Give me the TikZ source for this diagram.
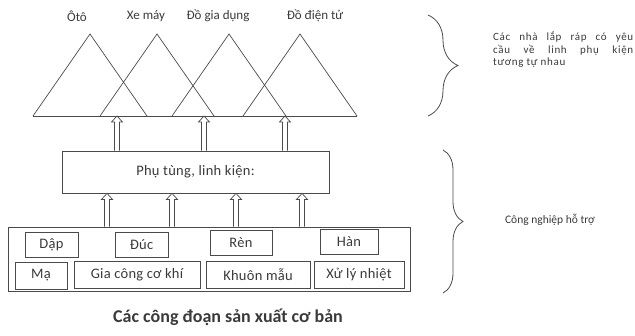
\documentclass[tikz,border=0pt]{standalone}
\usepackage{fontspec}
\setmainfont{Carlito}
\newfontfamily\spacedfont[LetterSpace=6]{Carlito}
\newfontfamily\boxfont[LetterSpace=2]{Carlito}
\usetikzlibrary{arrows.meta,calc,decorations.pathreplacing}
\definecolor{Ink}{HTML}{3A3A3A}
\definecolor{Line}{HTML}{4A4A4A}

\tikzset{
  box/.style={draw=Line,line width=0.8pt,inner sep=0pt,text=Ink,font=\boxfont\fontsize{14.5}{16}\selectfont},
  tri/.style={draw=Line,line width=0.7pt,line join=miter},
  blockup/.style={draw=Line,line width=0.7pt,line join=miter,
    to path={($(\tikztostart)+(-2.5,0)$) -- ($(\tikztotarget)+(-2.5,6)$) -- ($(\tikztotarget)+(-5.5,6)$)
      -- (\tikztotarget) -- ($(\tikztotarget)+(5.5,6)$) -- ($(\tikztotarget)+(2.5,6)$) -- ($(\tikztostart)+(2.5,0)$)}},
  lbl/.style={text=Ink,font=\fontsize{13}{15}\selectfont},
  curly/.style={draw=Line,line width=0.8pt,decorate,decoration={brace,amplitude=#1}}
}

\begin{document}
\begin{tikzpicture}[x=1pt,y=-1pt]
  \useasboundingbox (0,0) rectangle (635,335);

  % four product groups
  \coordinate (base) at (0,116);
  \foreach \cx/\nm in {90/oto,157/xemay,229/giadung,300/dientu}{
    \draw[tri] (\cx-57,116) -- (\cx,34) -- (\cx+57,116);
    \coordinate (\nm) at (\cx,116);
  }
  \draw[tri] (33,116) -- (357,116);
  \node[lbl] (l-oto) at (77,16) {Ôtô};
  \node[lbl] (l-xemay) at (146,16) {Xe máy};
  \node[lbl] (l-giadung) at (218,16) {Đồ gia dụng};
  \node[lbl] (l-dientu) at (315,16) {Đồ điện tử};

  % parts
  \node[box,minimum width=267,minimum height=42] (mid) at (195.5,172) {Phụ tùng, linh kiện:};
  \foreach \ax in {117,204,285}
    \draw[blockup] (mid.north -| \ax,0) to (base -| \ax,0);

  % basic processes
  \node[box,minimum width=402,minimum height=64] (outer) at (209,259) {};
  \node[box,minimum width=53,minimum height=25] (dap) at (51.5,244.5) {Dập};
  \node[box,minimum width=53,minimum height=25] (duc) at (141.5,244.5) {Đúc};
  \node[box,minimum width=62,minimum height=25] (ren) at (241,243) {Rèn};
  \node[box,minimum width=58,minimum height=25] (han) at (349,241.5) {Hàn};
  \node[box,minimum width=52,minimum height=27] (ma) at (41,275.5) {Mạ};
  \node[box,minimum width=126,minimum height=27] (giacong) at (137,275) {Gia công cơ khí};
  \node[box,minimum width=104,minimum height=27] (khuon) at (258,275) {Khuôn mẫu};
  \node[box,minimum width=90,minimum height=27] (xuly) at (359,275) {Xử lý nhiệt};
  \foreach \ax in {107,172,236,302}
    \draw[blockup] (outer.north -| \ax,0) to (mid.south -| \ax,0);

  \node[text=Ink,font=\bfseries\fontsize{18}{20}\selectfont] (caption) at (228,317) {Các công đoạn sản xuất cơ bản};

  % braces on the right
  \draw[curly=30pt] (428,15) -- (428,116);
  \draw[curly=20pt] (443,150) -- (443,293);
  \node[text=Ink,font=\spacedfont\fontsize{11}{12.5}\selectfont,align=left,anchor=north west,inner sep=0pt] (assembly) at (493,32)
    {\makebox[140pt][s]{Các nhà lắp ráp có yêu}\\\makebox[140pt][s]{cầu về linh phụ kiện}\\tương tự nhau};
  \node[lbl,font=\fontsize{11.5}{13}\selectfont] (support) at (550,220) {Công nghiệp hỗ trợ};
\end{tikzpicture}
\end{document}
